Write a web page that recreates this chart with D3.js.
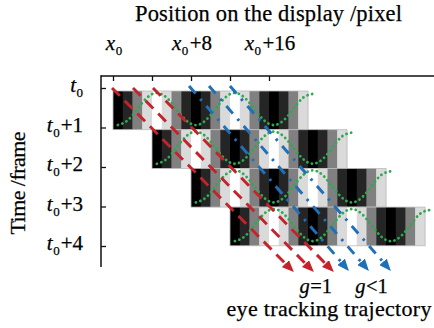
<!DOCTYPE html>
<html><head><meta charset="utf-8">
<script src="https://cdn.jsdelivr.net/npm/d3@7"></script>
<style>
body{margin:0;background:#fff}
svg{display:block}
</style>
</head><body>
<svg id="c" width="434" height="328"></svg>
<script>
// ---------- data ----------
const frames = [0, 1, 2, 3];                 // frames drawn as rows
const frameShift = 4;                        // display pixels the content moves per frame
// luminance of the 20 display pixels in each frame (black → white → black ...)
const cellLevels = [0, 0.146, 0.5, 0.854, 1, 0.854, 0.5, 0.146,
                    0, 0.146, 0.5, 0.854, 1, 0.854, 0.5, 0.146,
                    0, 0.146, 0.5, 0.854];
// perceived luminance profile (green dotted curve), sampled at pixel centres
const profileLevels = [0, 0.146, 0.5, 0.854, 1, 0.854, 0.5, 0.146,
                       0, 0.146, 0.5, 0.854, 1, 0.854, 0.5, 0.146,
                       0, 0.146, 0.5, 0.854, 0.97];
const xTicks = [0, 4, 8, 12, 16];
const xTickLabels = [{v: 0, s: ""}, {v: 8, s: "+8"}, {v: 16, s: "+16"}];
const yTicks = [0, 1, 2, 3, 4];
const yTickLabels = ["", "+1", "+2", "+3", "+4"];
// eye tracking trajectories: start / end in (display pixel, frame)
const trajG1 = [
  {p0: -0.1, t0: -0.08, p1: 18.55, t1: 4.68},
  {p0: 2.05, t0: -0.08, p1: 20.6, t1: 4.68},
  {p0: 4.1, t0: -0.08, p1: 22.65, t1: 4.68}
];
const trajGlt1 = [
  {p0: 7.8, t0: -0.13, p1: 24.2, t1: 4.65},
  {p0: 9.85, t0: -0.13, p1: 26.25, t1: 4.65},
  {p0: 12.0, t0: -0.13, p1: 28.5, t1: 4.65}
];

// ---------- layout ----------
const FONT = "'Liberation Serif', 'Times New Roman', Times, serif";
const svg = d3.select("#c").attr("font-family", FONT);
const X = d3.scaleLinear().domain([0, 20]).range([113, 308]);     // display pixel → x
const Y = d3.scaleLinear().domain([0, 4]).range([91, 245.8]);     // frame → row top
const T = d3.scaleLinear().domain([0, 4]).range([88, 246]);       // time axis ticks
const cellW = X(1) - X(0), rowH = Y(1) - Y(0);
const gray = v => d3.interpolateRgb("#000", "#fff")(v);

const RED = "#c4232c", BLUE = "#1f70b8", GREEN = "#2fa852";

// ---------- cells ----------
frames.forEach(f => {
  const g = svg.append("g");
  g.selectAll("rect").data(cellLevels).join("rect")
    .attr("x", (d, i) => X(i + f * frameShift))
    .attr("y", Y(f))
    .attr("width", cellW + 0.4)
    .attr("height", rowH)
    .attr("fill", d => gray(d));
  g.append("rect")
    .attr("x", X(f * frameShift)).attr("y", Y(f))
    .attr("width", X(cellLevels.length) - X(0)).attr("height", rowH)
    .attr("fill", "none").attr("stroke", "#bcbcbc").attr("stroke-width", 0.8);
});

// ---------- green profile ----------
const gl = d3.line().curve(d3.curveNatural);
frames.forEach(f => {
  const pts = profileLevels.map((v, i) => [X(i + 0.5 + f * frameShift), Y(f) + rowH * (0.88 - 0.83 * v)]);
  svg.append("path").attr("d", gl(pts))
    .attr("fill", "none").attr("stroke", GREEN).attr("stroke-width", 2.8)
    .attr("stroke-linecap", "round").attr("stroke-dasharray", "0.1,4.6");
});

// ---------- axes ----------
const axG = svg.append("g").attr("stroke", "#111");
axG.append("line").attr("x1", 101).attr("x2", 434).attr("y1", 76).attr("y2", 76).attr("stroke-width", 1.5);
axG.append("line").attr("x1", 101).attr("x2", 101).attr("y1", 75.3).attr("y2", 267).attr("stroke-width", 1.5);
const xa = svg.append("g").attr("transform", "translate(0,76)")
  .call(d3.axisTop(X).tickValues(xTicks).tickSize(-5).tickFormat(""));
xa.select(".domain").remove();
xa.selectAll("line").attr("stroke", "#111").attr("stroke-width", 1.3);
const ya = svg.append("g").attr("transform", "translate(101,0)")
  .call(d3.axisLeft(T).tickValues(yTicks).tickSize(-5).tickFormat(""));
ya.select(".domain").remove();
ya.selectAll("line").attr("stroke", "#111").attr("stroke-width", 1.3);

// ---------- trajectories ----------
const defs = svg.append("defs");
[["arR", RED], ["arB", BLUE]].forEach(([id, c]) => {
  defs.append("marker").attr("id", id).attr("markerUnits", "userSpaceOnUse")
    .attr("viewBox", "0 0 12 10").attr("refX", 12).attr("refY", 5)
    .attr("markerWidth", 12).attr("markerHeight", 10).attr("orient", "auto")
    .append("path").attr("d", "M0,0 L12,5 L0,10 Z").attr("fill", c);
});
function drawTraj(data, color, dash, marker) {
  data.forEach(d => {
    const xa_ = X(d.p0), ya_ = Y(d.t0), xb = X(d.p1), yb = Y(d.t1);
    const L = Math.hypot(xb - xa_, yb - ya_);
    const ux = (xb - xa_) / L, uy = (yb - ya_) / L;
    svg.append("line")
      .attr("x1", xa_).attr("y1", ya_)
      .attr("x2", xb - ux * 9).attr("y2", yb - uy * 9)
      .attr("stroke", color).attr("stroke-width", 2.9)
      .attr("stroke-dasharray", dash);
    svg.append("line")
      .attr("x1", xb - ux * 12).attr("y1", yb - uy * 12)
      .attr("x2", xb).attr("y2", yb)
      .attr("stroke", "none").attr("marker-end", `url(#${marker})`);
  });
}
drawTraj(trajG1, RED, "11,7", "arR");
drawTraj(trajGlt1, BLUE, "10,7,2.5,7", "arB");

// ---------- text ----------
const txt = () => svg.append("text").attr("font-family", FONT).attr("fill", "#000")
  .attr("stroke", "#000").attr("stroke-width", 0.25);

txt().attr("x", 268.5).attr("y", 21).attr("text-anchor", "middle")
  .attr("font-size", 22.5).attr("textLength", 267).attr("lengthAdjust", "spacing")
  .text("Position on the display /pixel");

xTickLabels.forEach(d => {
  const t = txt().attr("x", X(d.v) + 1).attr("y", 49.5)
    .attr("text-anchor", "middle").attr("font-size", 21);
  t.append("tspan").attr("font-style", "italic").text("x");
  t.append("tspan").attr("font-size", 13).attr("dy", 5).attr("dx", 0.5).text("0");
  if (d.s) t.append("tspan").attr("dy", -5).attr("dx", 1.5).text(d.s);
});

yTicks.forEach((v, i) => {
  const t = txt().attr("x", 83).attr("y", T(v) + 4)
    .attr("text-anchor", "end").attr("font-size", 21);
  t.append("tspan").attr("font-style", "italic").text("t");
  t.append("tspan").attr("font-size", 13).attr("dy", 5).attr("dx", 0.5).text("0");
  if (yTickLabels[i]) t.append("tspan").attr("dy", -5).attr("dx", 1).text(yTickLabels[i]);
});

txt().attr("transform", "translate(25,183) rotate(-90)")
  .attr("text-anchor", "middle").attr("font-size", 22)
  .attr("textLength", 103).attr("lengthAdjust", "spacing").text("Time /frame");

function gLabel(data, sym) {
  const cx = d3.mean(data, d => X(d.p1));
  const t = txt().attr("x", cx + 2).attr("y", 292.5)
    .attr("text-anchor", "middle").attr("font-size", 20.5);
  t.append("tspan").attr("font-style", "italic").text("g");
  t.append("tspan").attr("dx", 0.5).text(sym + "1");
}
gLabel(trajG1, "=");
gLabel(trajGlt1, "<");

txt().attr("x", 329).attr("y", 315.5).attr("text-anchor", "middle")
  .attr("font-size", 22).attr("textLength", 205).attr("lengthAdjust", "spacing")
  .text("eye tracking trajectory");
</script>
</body></html>
